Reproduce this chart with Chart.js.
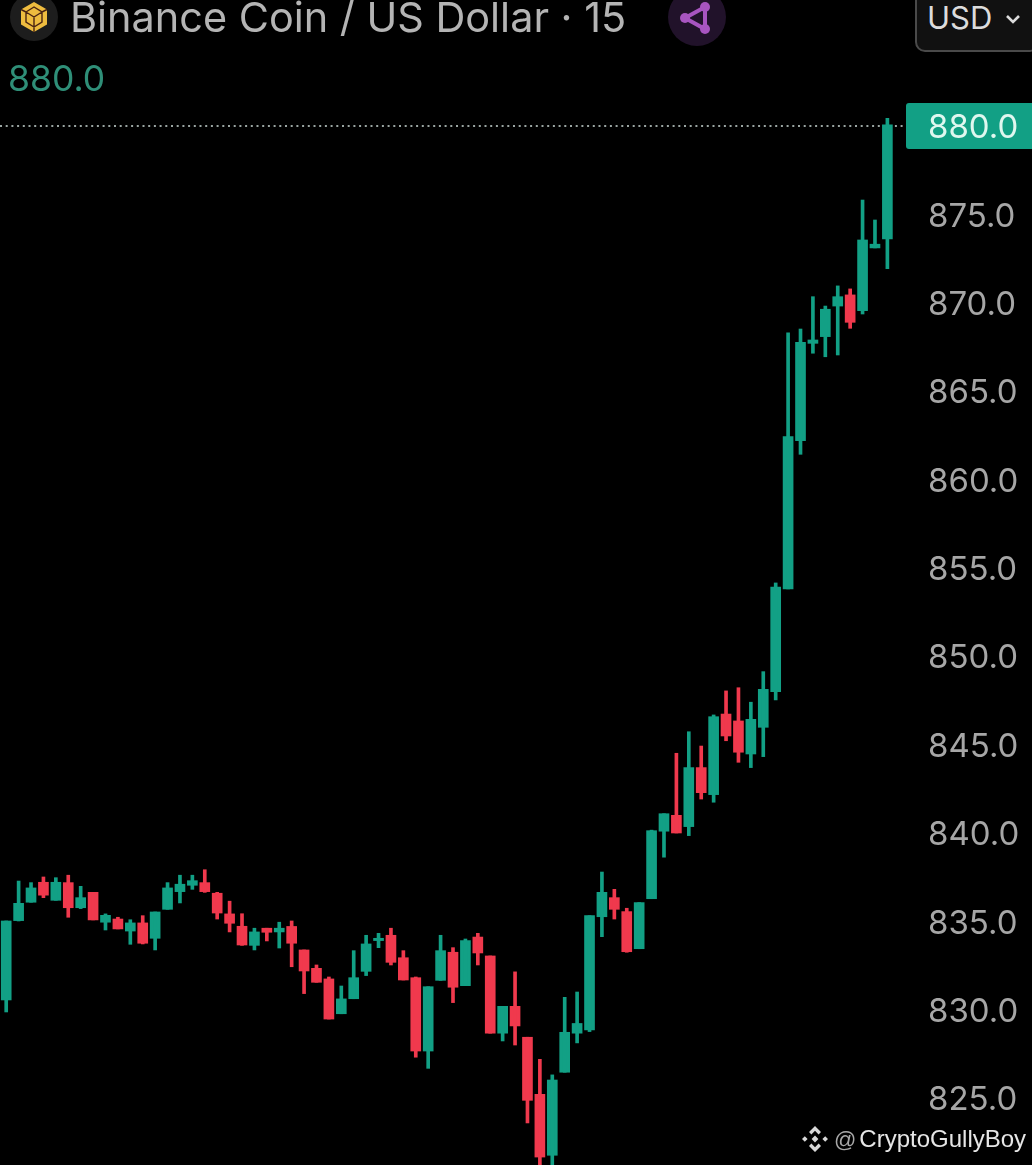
<!DOCTYPE html>
<html>
<head>
<meta charset="utf-8">
<title>Binance Coin / US Dollar</title>
<script src="https://cdn.jsdelivr.net/npm/chart.js@4"></script>
<style>
    html, body { margin: 0; padding: 0; background: #000; }
    #wrap { position: relative; width: 1032px; height: 1165px; overflow: hidden; background: #000; }
    #chart { position: absolute; left: 0; top: 0; }
    .txt { position: absolute; white-space: nowrap; font-family: Inter, sans-serif; line-height: 1; }
    #title { left: 70px; top: -3px; font-size: 41.4px; color: #b4b4b4; }
    #last { left: 8px; top: 61px; font-size: 35.5px; color: #2f8f78; }
    #usdBox { position: absolute; left: 915px; top: -10px; width: 125px; height: 62px; box-sizing: border-box;
        background: #111; border: 2px solid #4a4a4a; border-radius: 10px; }
    #usd { left: 927px; top: 2px; font-size: 31px; color: #dcdcdc; }
    #mark { left: 834px; top: 1127px; font-family: "Liberation Sans", sans-serif; font-size: 24px; color: #e6e6e6; }
    #mark span { color: #a8a8a8; font-size: 22px; margin-right: 3px; }
    svg { position: absolute; }
</style>
</head>
<body>
<div id="wrap">
    <canvas id="chart" width="1032" height="1165"></canvas>

    <svg style="left:10px;top:-7px" width="48" height="48" viewBox="0 0 48 48">
        <circle cx="24" cy="24" r="24" fill="#1d1d1d"/>
        <polygon points="24,9 37,16.5 37,31.5 24,39 11,31.5 11,16.5" fill="#eebc3f"/>
        <path d="M16 19l8-5 8 5v10l-8 5-8-5zM16 19l8 5 8-5M24 24v10M11 16.5l5 2.5M37 16.5l-5 2.5M24 34v5" fill="none" stroke="#4a2412" stroke-width="1.4"/>
    </svg>
    <div class="txt" id="title">Binance Coin / US Dollar · 15</div>
    <div class="txt" id="last">880.0</div>

    <svg style="left:668px;top:-12px" width="58" height="58" viewBox="0 0 58 58">
        <circle cx="29" cy="29" r="29" fill="#21122a"/>
        <path d="M37 19L17 30l20 11z" fill="none" stroke="#a855c0" stroke-width="4"/>
        <circle cx="37" cy="19" r="5" fill="#a855c0"/>
        <circle cx="17" cy="30" r="5" fill="#a855c0"/>
        <circle cx="37" cy="41" r="5" fill="#a855c0"/>
    </svg>

    <div id="usdBox"></div>
    <div class="txt" id="usd">USD</div>
    <svg style="left:1005px;top:13px" width="16" height="12" viewBox="0 0 16 12">
        <path d="M2 3l6 6 6-6" fill="none" stroke="#dcdcdc" stroke-width="2.6"/>
    </svg>

    <svg style="left:801px;top:1125px" width="28" height="28" viewBox="0 0 28 28" fill="#d8d8d8">
        <path d="M14 1l6 6-2.4 2.4L14 5.8l-3.6 3.6L8 7zM14 27l6-6-2.4-2.4-3.6 3.6-3.6-3.6L8 21zM1 14l2.8-2.8L6.6 14l-2.8 2.8zM27 14l-2.8-2.8L21.4 14l2.8 2.8zM14 10.6l3.4 3.4-3.4 3.4-3.4-3.4z"/>
    </svg>
    <div class="txt" id="mark"><span>@</span>CryptoGullyBoy</div>
</div>

<script>
// Świece 15m
const opens = [
    830.54, 835.03, 836.07, 837.20, 836.18, 837.18, 835.76, 836.63, 834.94, 835.12, 834.44, 834.90,
    834.03, 835.67, 836.67, 837.03, 837.18, 836.58, 835.41, 834.71, 833.63, 834.60, 834.39, 834.70,
    833.37, 832.33, 831.73, 829.76, 830.61, 832.16, 833.90, 834.20, 832.93, 831.80, 827.65, 831.65,
    833.24, 831.35, 834.10, 833.03, 828.66, 830.18, 828.43, 825.20, 821.75, 826.45, 828.66, 828.84,
    835.25, 836.33, 835.54, 833.44, 836.27, 840.09, 840.99, 840.35, 843.69, 842.16, 846.72, 846.33,
    844.46, 845.97, 847.99, 853.80, 862.19, 867.70, 868.08, 869.81, 870.44, 869.55, 873.10, 873.61,
];
const highs = [
    835.01, 837.27, 837.18, 837.50, 837.46, 837.60, 836.97, 836.63, 835.41, 835.22, 835.08, 835.31,
    835.52, 837.18, 837.60, 837.60, 837.91, 836.63, 836.13, 835.42, 834.60, 834.60, 834.94, 835.01,
    833.37, 832.52, 831.84, 831.33, 833.33, 834.20, 834.31, 834.60, 833.33, 831.84, 831.29, 834.20,
    833.50, 833.99, 834.31, 833.03, 830.18, 832.13, 828.43, 827.18, 826.30, 830.69, 830.99, 835.31,
    837.78, 836.80, 835.73, 836.05, 840.15, 841.08, 844.50, 845.72, 844.91, 846.67, 848.03, 848.21,
    847.39, 849.12, 854.14, 868.30, 868.51, 870.34, 869.81, 870.95, 870.78, 875.81, 874.68, 880.44,
];
const lows = [
    829.86, 835.01, 836.07, 836.33, 836.18, 835.22, 835.71, 835.07, 834.50, 834.56, 833.69, 833.71,
    833.37, 835.67, 836.03, 836.80, 836.63, 835.12, 834.39, 833.63, 833.37, 833.88, 833.48, 832.42,
    830.90, 831.54, 829.46, 829.76, 830.61, 831.92, 833.50, 832.52, 831.67, 827.30, 826.67, 831.65,
    830.39, 831.35, 832.52, 828.66, 828.22, 827.99, 823.58, 821.03, 821.03, 826.45, 828.11, 828.75,
    834.12, 835.12, 833.24, 833.44, 836.27, 838.62, 839.99, 839.84, 841.91, 841.73, 845.21, 843.99,
    843.69, 844.31, 847.52, 853.80, 861.42, 867.14, 866.94, 867.04, 868.55, 869.36, 873.10, 871.92,
];
const closes = [
    835.01, 836.01, 836.88, 836.47, 837.20, 835.76, 836.33, 835.07, 835.33, 834.56, 834.90, 833.75,
    835.52, 836.88, 837.09, 837.29, 836.67, 835.46, 834.88, 833.65, 834.39, 834.37, 834.60, 833.75,
    832.18, 831.54, 829.46, 830.60, 831.80, 833.71, 834.03, 832.67, 831.67, 827.65, 831.29, 833.33,
    831.26, 833.90, 833.20, 828.66, 830.18, 829.07, 824.86, 821.65, 826.01, 828.71, 829.21, 835.31,
    836.63, 835.67, 833.27, 836.05, 840.12, 841.08, 839.99, 843.69, 842.27, 846.57, 845.48, 844.56,
    846.42, 848.12, 853.91, 862.42, 867.76, 867.89, 869.63, 870.34, 868.89, 873.55, 873.31, 880.06,
];
const priceTicks = [825, 830, 835, 840, 845, 850, 855, 860, 865, 870, 875, 880];
const lastPrice = 880;

const UP = "#12a085";
const DOWN = "#f0394d";

// jeden pusty slot po prawej, do znacznika ceny
const slots = [...opens.map((_, i) => String(i)), ""];
const candleColors = opens.map((o, i) => (closes[i] >= o ? UP : DOWN));

const lastPricePlugin = {
    id: "lastPrice",
    beforeDraw(chart) {
        const { ctx, scales, chartArea } = chart;
        const y = scales.y.getPixelForValue(lastPrice);
        ctx.save();
        ctx.fillStyle = UP;
        ctx.beginPath();
        ctx.roundRect(chartArea.right, y - 23, 130, 46, 3);
        ctx.fill();
        ctx.strokeStyle = "#9aa5a2";
        ctx.lineWidth = 2;
        ctx.setLineDash([2, 3.7]);
        ctx.beginPath();
        ctx.moveTo(0, y);
        ctx.lineTo(chartArea.right, y);
        ctx.stroke();
        ctx.restore();
    },
};

new Chart(document.getElementById("chart"), {
    type: "bar",
    data: {
        labels: slots,
        datasets: [
            {
                label: "wick",
                data: highs.map((h, i) => [lows[i], h]),
                backgroundColor: candleColors,
                barThickness: 3,
                grouped: false,
            },
            {
                label: "body",
                data: opens.map((o, i) => [o, closes[i]]),
                backgroundColor: candleColors,
                barThickness: 10,
                grouped: false,
            },
        ],
    },
    options: {
        responsive: false,
        animation: false,
        layout: { padding: 0 },
        plugins: { legend: { display: false }, tooltip: { enabled: false } },
        scales: {
            x: { display: false, offset: true, grid: { display: false } },
            y: {
                position: "right",
                min: 821.2,
                max: 887.13,
                border: { display: false },
                grid: { display: false, drawTicks: false },
                afterBuildTicks: (axis) => {
                    axis.ticks = priceTicks.map((value) => ({ value }));
                },
                afterFit: (axis) => {
                    axis.width = 126;
                    axis.paddingTop = 0;
                    axis.paddingBottom = 0;
                },
                ticks: {
                    autoSkip: false,
                    padding: 22,
                    // pusty pierwszy wiersz i mały lineHeight zsuwają napis o ok. 2.5px w dół
                    font: { family: "Inter", size: 33, lineHeight: 0.15 },
                    color: (ctx) => (ctx.tick.value === lastPrice ? "#dff7ef" : "#a6a6a6"),
                    callback: (v) => ["", v.toFixed(1)],
                },
            },
        },
    },
    plugins: [lastPricePlugin],
});
</script>
</body>
</html>
